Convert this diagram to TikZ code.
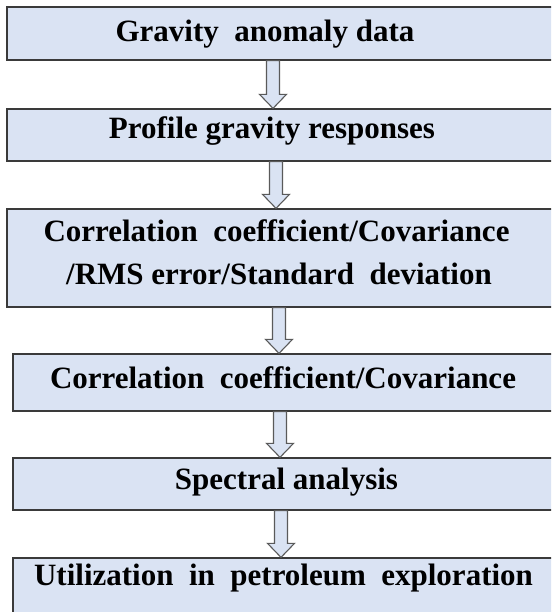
\documentclass[tikz,border=0pt]{standalone}
\usepackage{fontspec}
\setmainfont{Liberation Serif}
\usetikzlibrary{calc}
\definecolor{boxfill}{HTML}{DAE3F3}
\definecolor{boxline}{HTML}{3A3A3A}
\definecolor{arrline}{HTML}{5A5A5A}
\tikzset{
  flowbox/.style={draw=boxline, line width=1.3pt, fill=boxfill},
  lbl/.style={anchor=base, inner sep=0pt, font=\fontsize{31}{37}\selectfont\bfseries},
  fatarr/.style={draw=arrline, line width=1.1pt, fill=boxfill, line join=miter}
}
\newcommand{\fatarrow}[3]{%
  \draw[fatarr] let \p1=(#1.south), \p2=(#2.north) in
    (#3-6.5,\y1) -- (#3+6.5,\y1) -- (#3+6.5,\y2+14pt) -- (#3+13.5,\y2+14pt)
    -- (#3,\y2) -- (#3-13.5,\y2+14pt) -- (#3-6.5,\y2+14pt) -- cycle;}
\begin{document}
\begin{tikzpicture}[x=1pt,y=-1pt]
\useasboundingbox (0,0) rectangle (551,612);
\clip (0,0) rectangle (551,612);
\fill[white] (0,0) rectangle (551,612);
% boxes
\node[flowbox, inner sep=0pt, minimum width=563pt, minimum height=53pt] (b1) at (288.5,33.5) {};
\node[flowbox, inner sep=0pt, minimum width=563pt, minimum height=52pt] (b2) at (288.5,135) {};
\node[flowbox, inner sep=0pt, minimum width=563pt, minimum height=98pt] (b3) at (288.5,258) {};
\node[flowbox, inner sep=0pt, minimum width=557pt, minimum height=57pt] (b4) at (291.5,382.5) {};
\node[flowbox, inner sep=0pt, minimum width=557pt, minimum height=52pt] (b5) at (291.5,484) {};
\node[flowbox, inner sep=0pt, minimum width=557pt, minimum height=67pt] (b6) at (291.5,591.5) {};
% texts
\node[lbl] (t1) at (265,42) {Gravity\ \ anomaly data};
\node[lbl] (t2) at (272,139) {Profile gravity responses};
\node[lbl] (t3a) at (276.5,241) {Correlation\ \ coefficient/Covariance};
\node[lbl] (t3b) at (279,284) {/RMS error/Standard\ \ deviation};
\node[lbl] (t4) at (283,388) {Correlation\ \ coefficient/Covariance};
\node[lbl] (t5) at (286.5,489) {Spectral analysis};
\node[lbl] (t6) at (283.5,585) {Utilization\ \ in\ \ petroleum\ \ exploration};
% arrows
\fatarrow{b1}{b2}{273}
\fatarrow{b2}{b3}{276}
\fatarrow{b3}{b4}{279}
\fatarrow{b4}{b5}{280}
\fatarrow{b5}{b6}{281}
\end{tikzpicture}
\end{document}
